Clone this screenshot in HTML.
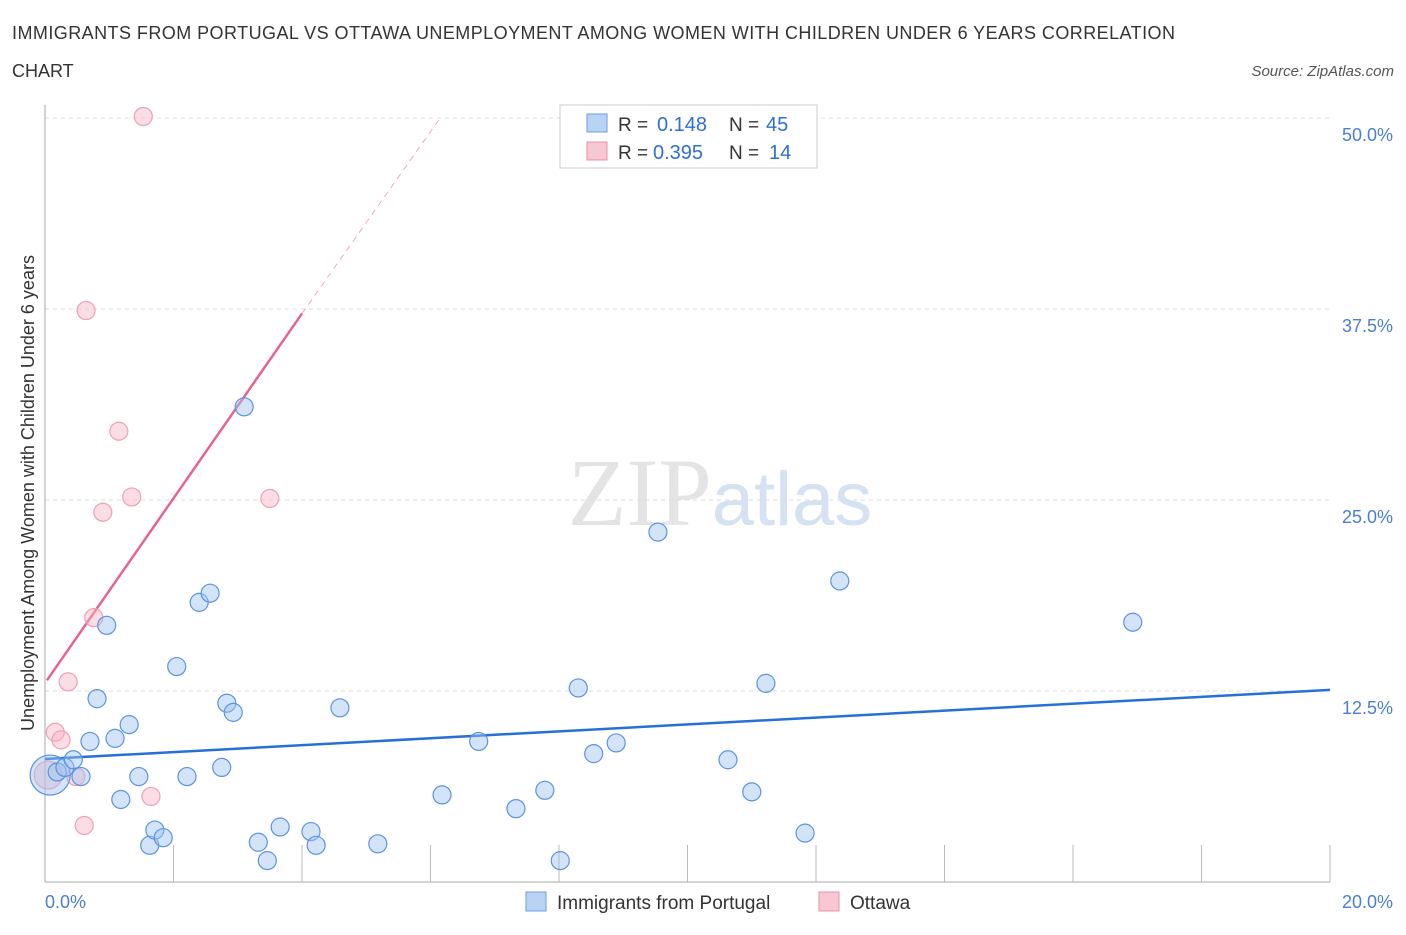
<!DOCTYPE html>
<html><head><meta charset="utf-8"><style>
body{margin:0;background:#fff;font-family:"Liberation Sans",sans-serif;}
svg text{font-family:"Liberation Sans",sans-serif;}
</style></head><body>
<svg id="chart" width="1406" height="930" viewBox="0 0 1406 930" xmlns="http://www.w3.org/2000/svg">
<text x="12" y="39" font-size="18" fill="#333" textLength="1163" lengthAdjust="spacing">IMMIGRANTS FROM PORTUGAL VS OTTAWA UNEMPLOYMENT AMONG WOMEN WITH CHILDREN UNDER 6 YEARS CORRELATION</text>
<text x="12" y="77" font-size="18" fill="#333">CHART</text>
<text x="1394" y="76" font-size="15" font-style="italic" fill="#555" text-anchor="end">Source: ZipAtlas.com</text>
<text x="720" y="525" font-size="96" text-anchor="middle" fill="#e4e4e4"><tspan font-family="Liberation Serif">ZIP</tspan><tspan fill="#d4e2f4" font-size="76">atlas</tspan></text>
<text transform="translate(34,493) rotate(-90)" font-size="18" fill="#333" text-anchor="middle">Unemployment Among Women with Children Under 6 years</text>
<g id="grid"></g><g id="axes"></g><g id="lines"></g><g id="pts"></g>
<g>
<rect x="560" y="105" width="257" height="63" fill="#fff" stroke="#ccc"/>
<rect x="587" y="114" width="20" height="18" fill="#b9d3f4" stroke="#6a9fe0"/>
<text x="618" y="131" font-size="19" fill="#333">R =</text>
<text x="657" y="131" font-size="20" fill="#2f6fd4">0.148</text>
<text x="729" y="131" font-size="19" fill="#333">N =</text>
<text x="766" y="131" font-size="20" fill="#2f6fd4">45</text>
<rect x="587" y="142" width="20" height="18" fill="#f8c7d4" stroke="#e890a8"/>
<text x="618" y="159" font-size="19" fill="#333">R =</text>
<text x="653" y="159" font-size="20" fill="#2f6fd4">0.395</text>
<text x="729" y="159" font-size="19" fill="#333">N =</text>
<text x="769" y="159" font-size="20" fill="#2f6fd4">14</text>
</g>
<g>
<rect x="526" y="892" width="20" height="19" fill="#b9d3f4" stroke="#6a9fe0"/>
<text x="557" y="909" font-size="19" fill="#333">Immigrants from Portugal</text>
<rect x="819" y="892" width="20" height="19" fill="#f8c7d4" stroke="#e890a8"/>
<text x="850" y="909" font-size="19" fill="#333">Ottawa</text>
</g>
</svg>
<script>
const yTicks=[12.5,25,37.5,50];
const yTickLabels=["12.5%","25.0%","37.5%","50.0%"];
const blueX=[0.08,0.19,0.31,0.44,0.56,0.81,0.96,0.70,1.09,1.31,1.18,1.46,1.63,1.71,1.84,2.05,2.21,2.40,2.57,2.75,2.83,2.93,3.10,3.32,3.46,3.66,4.14,4.22,4.59,5.18,6.18,6.75,7.33,7.78,8.02,8.30,8.54,8.89,9.54,10.63,11.00,11.22,11.83,12.37,16.93];
const blueY=[7.0,7.2,7.5,8.0,6.9,12.0,16.8,9.2,9.4,10.3,5.4,6.9,2.4,3.4,2.9,14.1,6.9,18.3,18.9,7.5,11.7,11.1,31.1,2.6,1.4,3.6,3.3,2.4,11.4,2.5,5.7,9.2,4.8,6.0,1.4,12.7,8.4,9.1,22.9,8.0,5.9,13.0,3.2,19.7,17.0];
const pinkX=[1.53,0.64,1.15,1.35,0.90,3.50,0.76,0.36,0.16,0.25,0.48,1.65,0.61,0.05];
const pinkY=[50.1,37.4,29.5,25.2,24.2,25.1,17.3,13.1,9.8,9.3,6.9,5.6,3.7,7.0];
const blueTrend=[[0,8.05],[20,12.57]];
const pinkTrend=[[0.03,13.2],[4.0,37.2]];
const pinkDash=[[4.0,37.2],[6.15,50]];
const X=v=>45+v/20*1285, Y=v=>882-v/50*764;
const NS="http://www.w3.org/2000/svg";
function mk(tag,parent,attrs){const e=document.createElementNS(NS,tag);for(const k in attrs)e.setAttribute(k,attrs[k]);document.getElementById(parent).appendChild(e);return e;}
yTicks.forEach((t,i)=>{
 const g=mk('line','grid',{x1:45,x2:1330,y1:Y(t),y2:Y(t),stroke:'#ddd','stroke-dasharray':'4,4'});
 
 
 const l=mk('text','axes',{x:1393,y:Y(t)+23,'font-size':18,fill:'#4a7fd0','text-anchor':'end'});
 l.textContent=yTickLabels[i];
 
 
});
const ax=mk('line','axes',{x1:45,x2:45,y1:105,y2:882,stroke:'#aaa'});


const bx=mk('line','axes',{x1:45,x2:1330,y1:882,y2:882,stroke:'#aaa'});


for(let i=1;i<=10;i++){const t=mk('line','axes',{x1:X(i*2),x2:X(i*2),y1:845,y2:882,stroke:'#bbb'});
 
 }
[["0.0%",45,'start'],["20.0%",1393,'end']].forEach(d=>{const t=mk('text','axes',{x:d[1],y:908,'font-size':18,fill:'#4a7fd0','text-anchor':d[2]});t.textContent=d[0];
 
 });
const bl=mk('line','lines',{x1:X(blueTrend[0][0]),y1:Y(blueTrend[0][1]),x2:X(blueTrend[1][0]),y2:Y(blueTrend[1][1]),stroke:'#2670d8','stroke-width':2.5});


const pl=mk('line','lines',{x1:X(pinkTrend[0][0]),y1:Y(pinkTrend[0][1]),x2:X(pinkTrend[1][0]),y2:Y(pinkTrend[1][1]),stroke:'#e8648c','stroke-width':2.5});


const pd=mk('line','lines',{x1:X(pinkDash[0][0]),y1:Y(pinkDash[0][1]),x2:X(pinkDash[1][0]),y2:Y(pinkDash[1][1]),stroke:'#f0a8bc','stroke-width':1,'stroke-dasharray':'6,5'});


pinkX.forEach((x,i)=>{const c=mk('circle','pts',{cx:X(x),cy:Y(pinkY[i]),r:i==13?14:9,fill:'rgba(246,180,198,0.45)',stroke:'#eea0b6','stroke-width':1.2});
 
 });
blueX.forEach((x,i)=>{const c=mk('circle','pts',{cx:X(x),cy:Y(blueY[i]),r:i==0?20:9,fill:'rgba(160,196,240,0.45)',stroke:'#5a93e0','stroke-width':1.2});
 
 });
</script>
</body></html>
